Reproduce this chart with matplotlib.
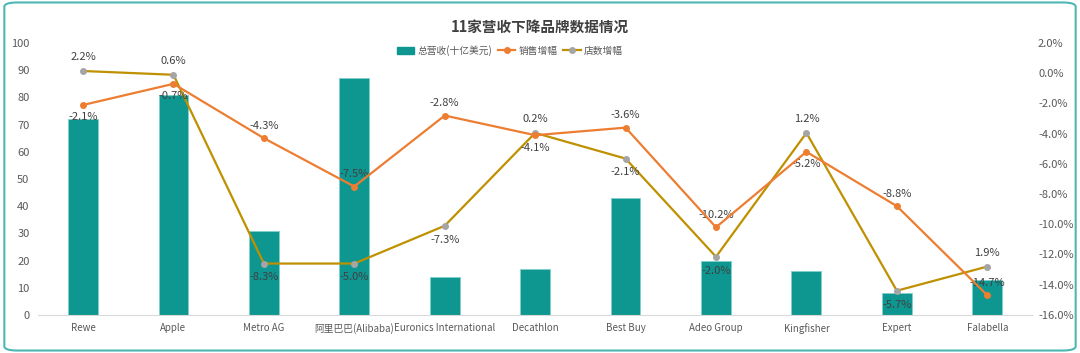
import matplotlib.pyplot as plt
import numpy as np
from matplotlib.patches import FancyBboxPatch
from matplotlib.lines import Line2D
from matplotlib.patches import Patch

plt.rcParams['font.family'] = ['Noto Sans CJK SC', 'DejaVu Sans']

# 数据
brands = ['Rewe', 'Apple', 'Metro AG', '阿里巴巴(Alibaba)', 'Euronics International',
          'Decathlon', 'Best Buy', 'Adeo Group', 'Kingfisher', 'Expert', 'Falabella']
revenue = [72, 81, 31, 87, 14, 17, 43, 20, 16, 8, 13]
sales_growth = [-2.1, -0.7, -4.3, -7.5, -2.8, -4.1, -3.6, -10.2, -5.2, -8.8, -14.7]
# 店数增幅: 图中点的位置与标签不一致, 分开记录
store_pos = [0.15, -0.1, -12.6, -12.6, -10.1, -3.95, -5.65, -12.15, -3.95, -14.4, -12.8]
store_labels = ['2.2%', '0.6%', '-8.3%', '-5.0%', '-7.3%', '0.2%', '-2.1%', '-2.0%', '1.2%', '-5.7%', '1.9%']
# 标签位置: 1 = 上方, -1 = 下方
sales_side = [-1, -1, 1, 1, 1, -1, 1, 1, -1, 1, 1]
store_side = [1, 1, -1, -1, -1, 1, -1, -1, 1, -1, 1]

teal = '#0E9691'
orange = '#ED7D31'
gold = '#BF9000'
grey = '#A5A5A5'
tick_c = '#595959'
lab_c = '#404040'

fig = plt.figure(figsize=(10.8, 3.53), dpi=100)
ax = fig.add_axes([0.035, 0.108, 0.921, 0.77])
x = np.arange(len(brands))

ax.bar(x, revenue, width=0.33, color=teal, edgecolor='#7fd0cc', linewidth=0.6, zorder=2)
ax.set_ylim(0, 100)
ax.set_yticks(np.arange(0, 101, 10))
ax.set_xlim(-0.5, len(brands) - 0.5)
ax.set_xticks(x)
ax.set_xticklabels(brands, fontsize=7, color=tick_c)
ax.tick_params(axis='y', labelsize=8, colors=tick_c, length=0, pad=6)
ax.tick_params(axis='x', length=0, pad=6)
for s in ['top', 'right', 'left']:
    ax.spines[s].set_visible(False)
ax.spines['bottom'].set_color('#d9d9d9')

ax2 = ax.twinx()
ax2.plot(x, sales_growth, color=orange, lw=1.6, marker='o', ms=4, zorder=4)
ax2.plot(x, store_pos, color=gold, lw=1.6, marker='o', ms=4,
         markerfacecolor=grey, markeredgecolor=grey, zorder=3)
ax2.set_ylim(-16, 2)
ax2.set_yticks(np.arange(-16, 2.1, 2))
ax2.set_yticklabels(['%.1f%%' % v for v in np.arange(-16, 2.1, 2)])
ax2.tick_params(axis='y', labelsize=8, colors=tick_c, length=0, pad=4)
for s in ['top', 'right', 'left', 'bottom']:
    ax2.spines[s].set_visible(False)

for xi, v, sd in zip(x, sales_growth, sales_side):
    ax2.annotate('%.1f%%' % v, (xi, v), xytext=(0, 9 * sd), textcoords='offset points',
                 ha='center', va='center', fontsize=8, color=lab_c)
for xi, v, lab, sd in zip(x, store_pos, store_labels, store_side):
    ax2.annotate(lab, (xi, v), xytext=(0, 10 * sd), textcoords='offset points',
                 ha='center', va='center', fontsize=8, color=lab_c)

fig.text(0.5, 0.925, '11家营收下降品牌数据情况', ha='center', va='center',
         fontsize=10.5, fontweight='bold', color='#404040')

handles = [Patch(color=teal),
           Line2D([], [], color=orange, lw=1.6, marker='o', ms=4),
           Line2D([], [], color=gold, lw=1.6, marker='o', ms=4,
                  markerfacecolor=grey, markeredgecolor=grey)]
fig.legend(handles, ['总营收(十亿美元)', '销售增幅', '店数增幅'], loc='center',
           bbox_to_anchor=(0.472, 0.857), ncol=3, frameon=False, fontsize=7,
           labelcolor=tick_c, handlelength=1.8, handletextpad=0.3, columnspacing=0.6)

border = FancyBboxPatch((0.004, 0.007), 0.992, 0.986, boxstyle='round,pad=0,rounding_size=0.012',
                        transform=fig.transFigure, fill=False, edgecolor='#4db8b3', lw=1.5)
fig.patches.append(border)

fig.savefig('out.png', dpi=100)
